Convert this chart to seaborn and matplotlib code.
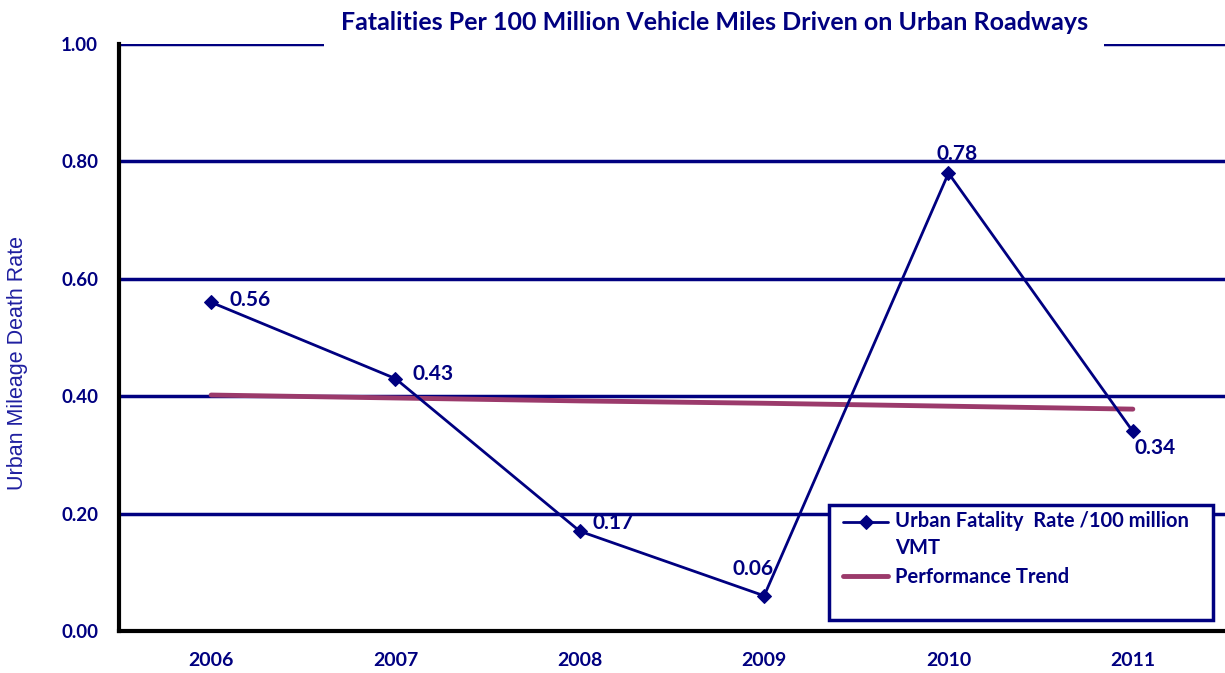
import numpy as np
import pandas as pd
import seaborn as sns
import matplotlib.pyplot as plt
from matplotlib.patches import Rectangle
from matplotlib.ticker import FormatStrFormatter

years = ['2006', '2007', '2008', '2009', '2010', '2011']
urban_rate = [0.56, 0.43, 0.17, 0.06, 0.78, 0.34]
trend = [0.402, 0.397, 0.392, 0.388, 0.383, 0.378]
label_offsets = [(13, 2), (12, 3), (9, 6), (-8, 19), (6, 14), (1, -12)]
label_ha = ['left', 'left', 'left', 'center', 'center', 'left']

navy = '#000080'
trend_color = '#9b3a6b'

sns.set_style('white')
plt.rcParams['font.family'] = ['Lato', 'DejaVu Sans']

fig = plt.figure(figsize=(12.25, 6.73), dpi=100)
ax = fig.add_axes([0.0971, 0.0624, 0.9029, 0.8722])

df = pd.DataFrame({'year': years, 'rate': urban_rate, 'trend': trend})
df['pos'] = np.arange(len(years))

for y in [0.2, 0.4, 0.6, 0.8, 1.0]:
    ax.axhline(y, color=navy, lw=2.5, zorder=1)

sns.lineplot(data=df, x='pos', y='rate', color=navy, lw=2, marker='D',
             markersize=7.5, markeredgecolor=navy, ax=ax, zorder=3,
             label='Urban Fatality  Rate /100 million\nVMT')
sns.lineplot(data=df, x='pos', y='trend', color=trend_color, lw=3.5, ax=ax,
             zorder=2, label='Performance Trend')

for i, v in enumerate(urban_rate):
    ax.annotate(f'{v:.2f}', (i, v), xytext=label_offsets[i], textcoords='offset points',
                ha=label_ha[i], va='center', color=navy, fontsize=15, fontweight='bold')

ax.set_xlim(-0.5, 5.5)
ax.set_ylim(0, 1.0)
ax.set_xticks(range(len(years)))
ax.set_xticklabels(years)
ax.set_xticks(np.arange(-0.5, 6, 1), minor=True)
ax.tick_params(axis='x', which='major', length=0, pad=15, labelsize=14, labelcolor=navy)
ax.tick_params(axis='x', which='minor', length=10, width=2, color='black', direction='out')
ax.set_yticks([0, 0.2, 0.4, 0.6, 0.8, 1.0])
ax.yaxis.set_major_formatter(FormatStrFormatter('%.2f'))
ax.tick_params(axis='y', length=7, width=2, color='black', direction='out', pad=8,
               labelsize=13.5, labelcolor=navy)
for lab in ax.get_xticklabels() + ax.get_yticklabels():
    lab.set_fontweight('bold')

for s in ['top', 'right']:
    ax.spines[s].set_visible(False)
for s in ['left', 'bottom']:
    ax.spines[s].set_color('black')
    ax.spines[s].set_linewidth(3)
    ax.spines[s].set_zorder(4)

ax.set_xlabel('')
ax.set_ylabel('Urban Mileage Death Rate', color='#1f1fa0', fontsize=15.5,
              family=['Liberation Sans', 'DejaVu Sans'])
ax.yaxis.set_label_coords(-0.082, 0.457)

# legend box drawn separately so it keeps the empty space at its bottom
box = Rectangle((0.642, 0.0187), 0.347, 0.196, transform=ax.transAxes,
                facecolor='white', edgecolor=navy, lw=2.5, zorder=5)
ax.add_patch(box)
leg = ax.legend(loc='upper left', bbox_to_anchor=(0.651, 0.212),
                frameon=False, handlelength=2.25, borderaxespad=0,
                labelspacing=0.45, borderpad=0.2, handletextpad=0.35,
                prop={'weight': 'bold', 'size': 14.5})
leg.set_zorder(6)
for t in leg.get_texts():
    t.set_color(navy)
    t.set_linespacing(1.45)
# line up the first handle with the first line of its two-line label
h0 = leg.legend_handles[0]
h0.set_ydata(np.asarray(h0.get_ydata()) + 9.4)

fig.text(0.583, 0.967, 'Fatalities Per 100 Million Vehicle Miles Driven on Urban Roadways',
         ha='center', va='center', fontsize=18, fontweight='bold', color=navy,
         bbox=dict(facecolor='white', edgecolor='none', pad=12), zorder=10)

fig.savefig('out.png', dpi=100)
